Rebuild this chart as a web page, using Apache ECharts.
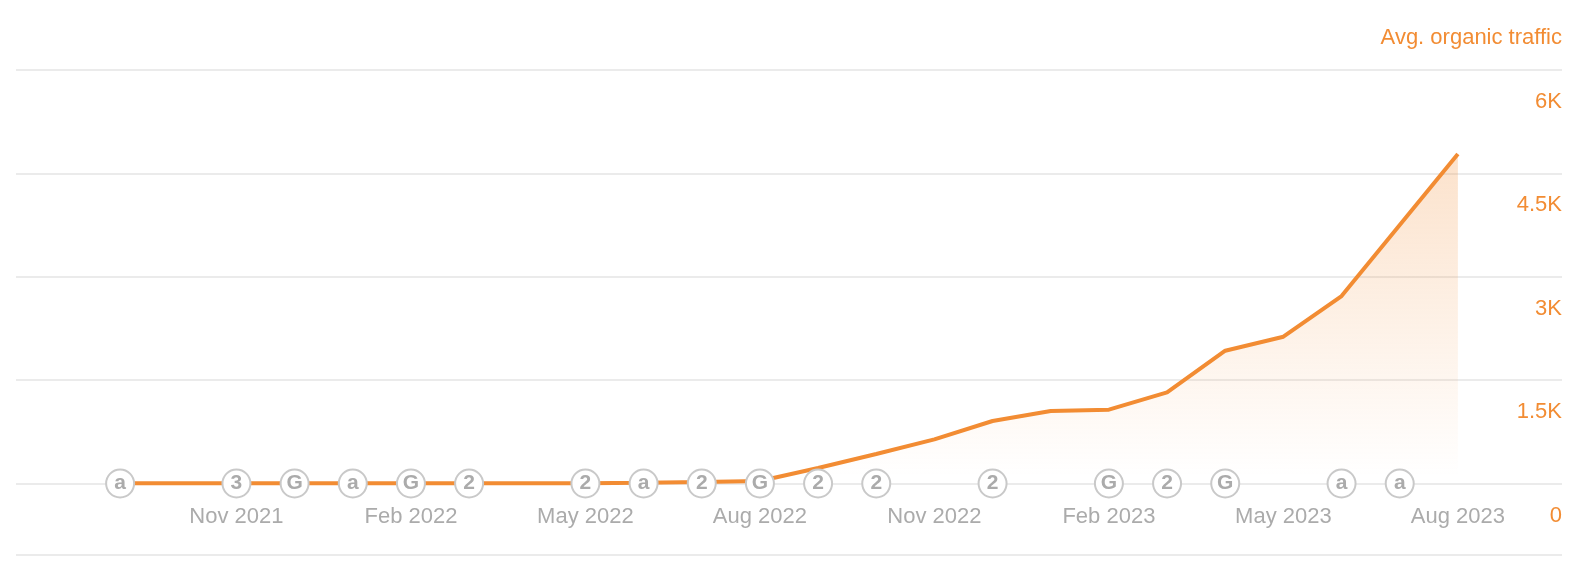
<!DOCTYPE html>
<html><head><meta charset="utf-8">
<style>html,body{margin:0;padding:0;background:#fff}#c{width:1594px;height:564px}</style>
<script src="https://cdn.jsdelivr.net/npm/echarts@6/dist/echarts.min.js"></script></head>
<body><div id="c"></div>
<script>
const months = ['Sep 2021','Oct 2021','Nov 2021','Dec 2021','Jan 2022','Feb 2022','Mar 2022','Apr 2022','May 2022','Jun 2022','Jul 2022','Aug 2022','Sep 2022','Oct 2022','Nov 2022','Dec 2022','Jan 2023','Feb 2023','Mar 2023','Apr 2023','May 2023','Jun 2023','Jul 2023','Aug 2023'];
const traffic = [2,2,2,2,3,3,3,3,5,12,22,36,225,428,640,907,1052,1071,1323,1927,2130,2720,3750,4781];
const tickMonths = [2,5,8,11,14,17,20,23];
const yTicks = [0,1500,3000,4500,6000];
const yTickLabels = ['0','1.5K','3K','4.5K','6K'];
const eventMonths = [0,2,3,4,5,6,8,9,10,11,12,13,15,17,18,19,21,22];
const eventLabels = ['a','3','G','a','G','2','2','a','2','G','2','2','2','G','2','G','a','a'];
const orange = '#f28c33', gray = '#ababab', grid = '#ebebeb';
const font = '"Liberation Sans", Arial, sans-serif';
const chart = echarts.init(document.getElementById('c'));
chart.setOption({
  animation:false,
  title:{text:'Avg. organic traffic',right:27,top:22,textStyle:{color:orange,fontSize:22,fontWeight:'normal',fontFamily:font}},
  grid:{left:16,right:32,top:70,bottom:80.5},
  xAxis:{type:'value',min:-1.79,max:24.79,
    axisLine:{show:false},axisTick:{show:false},splitLine:{show:false},
    axisLabel:{customValues:tickMonths,formatter:v=>months[v],color:gray,fontSize:22,fontFamily:font,margin:22,hideOverlap:false}},
  yAxis:{type:'value',position:'right',min:0,max:6000,interval:1500,
    axisLine:{show:false},axisTick:{show:false},
    splitLine:{lineStyle:{color:grid,width:2}},
    axisLabel:{inside:true,margin:0,verticalAlign:'top',align:'right',padding:[21,0,0,0],color:orange,fontSize:22,fontFamily:font,
      formatter:v=>yTickLabels[yTicks.indexOf(v)]}},
  series:[
    {type:'line',data:traffic.map((v,i)=>[i,v]),symbol:'none',z:3,clip:false,
      lineStyle:{color:orange,width:4},
      areaStyle:{color:new echarts.graphic.LinearGradient(0,0,0,1,[{offset:0,color:'rgba(242,140,51,0.36)'},{offset:0.98,color:'rgba(242,140,51,0)'}])}},
    {type:'scatter',data:eventMonths.map((m,i)=>[m,0,eventLabels[i]]),symbol:'circle',symbolSize:28,z:5,clip:false,
      itemStyle:{color:'#fff',borderColor:'#c9c9c9',borderWidth:2,opacity:1},
      label:{show:true,position:'inside',formatter:p=>p.value[2],color:gray,fontSize:21,fontWeight:'bold',fontFamily:font}}
  ],
  graphic:[{type:'rect',left:16,top:554,shape:{width:1546,height:2},style:{fill:grid},silent:true}]
});
</script></body></html>
